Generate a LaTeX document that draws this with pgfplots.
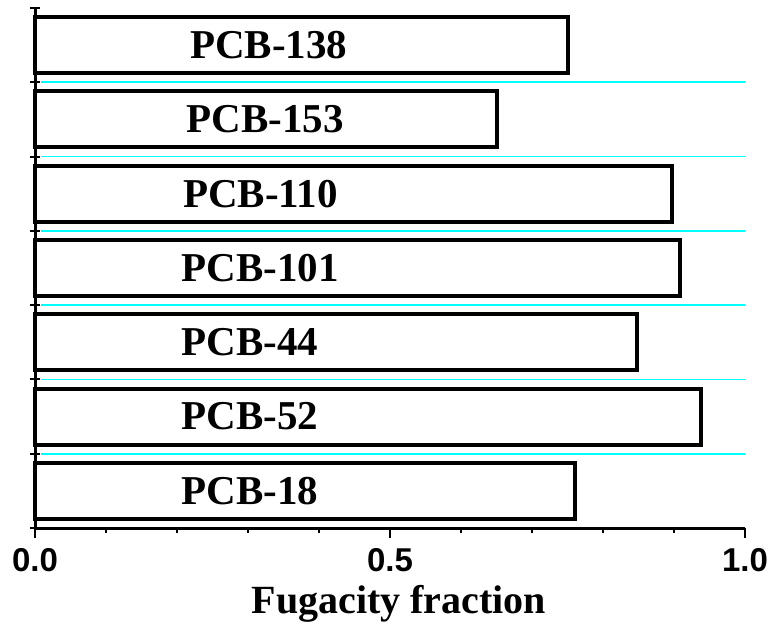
\documentclass[border=0pt]{standalone}
\usepackage{fontspec}
\setmainfont{Liberation Serif}
\setsansfont{Liberation Sans}
\usepackage{pgfplots}
\pgfplotsset{compat=1.18}
\definecolor{gridc}{RGB}{0,255,255}

\begin{document}
\begin{tikzpicture}
\path[use as bounding box] (-17.5pt,-47.5pt) rectangle (367pt,264pt);
\begin{axis}[
  scale only axis,
  width=355pt, height=260pt,
  xmin=0, xmax=1, ymin=-0.5, ymax=6.5,
  axis x line=bottom, axis y line=left,
  axis line style={-, line width=1.5pt},
  xtick={0,0.5,1}, minor x tick num=4,
  ytick={-0.5,0.5,...,6.5}, yticklabels={},
  tick align=outside,
  major tick length=5pt, minor tick length=2.5pt,
  every tick/.style={black, line width=1pt},
  y tick style={xshift=2.5pt},
  /pgf/number format/assume math mode=true,
  xticklabel={\pgfmathprintnumber[fixed, fixed zerofill, precision=1]{\tick}},
  tick label style={font=\fontsize{16.5}{16.5}\selectfont\sffamily\bfseries},
  xticklabel style={anchor=base, yshift=-16.5pt},
  xlabel={Fugacity fraction},
  xlabel style={font=\fontsize{20}{20}\selectfont\bfseries, at={(axis description cs:0.5,0)}, anchor=base, yshift=-42.5pt, xshift=4.5pt},
  clip=false,
]
\pgfplotsinvokeforeach{0.5,1.5,2.5,3.5,4.5,5.5}{
  \draw[gridc, line width=0.9pt] (axis cs:0.008,#1) -- (axis cs:1,#1);
}
\addplot[xbar, bar width=28pt, fill=white, draw=black, line width=2pt] coordinates {
(0.760,0)
(0.938,1)
(0.848,2)
(0.908,3)
(0.897,4)
(0.650,5)
(0.750,6)
};
\tikzset{lab/.style={anchor=west, inner sep=0pt, font=\fontsize{20.5}{20.5}\selectfont\bfseries}}
\node[lab] at (axis cs:0.206,0) {PCB-18};
\node[lab] at (axis cs:0.206,1) {PCB-52};
\node[lab] at (axis cs:0.206,2) {PCB-44};
\node[lab] at (axis cs:0.206,3) {PCB-101};
\node[lab] at (axis cs:0.208,4) {PCB-110};
\node[lab] at (axis cs:0.213,5) {PCB-153};
\node[lab] at (axis cs:0.218,6) {PCB-138};
\end{axis}
\end{tikzpicture}
\end{document}
